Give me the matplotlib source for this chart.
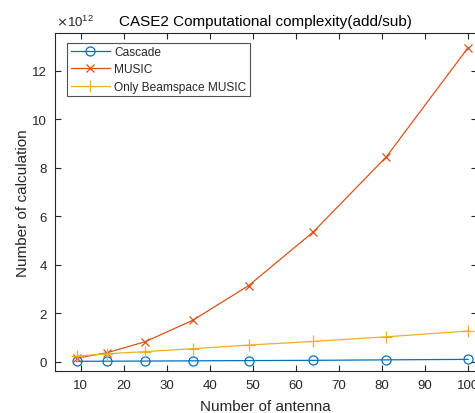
import numpy as np
import matplotlib.pyplot as plt
from matplotlib.ticker import FuncFormatter

plt.rcParams['font.family'] = ['Liberation Sans', 'DejaVu Sans']

antennas = [9, 16, 25, 36, 49, 64, 81, 100]
cascade = [0.02e12, 0.025e12, 0.03e12, 0.04e12, 0.05e12, 0.06e12, 0.08e12, 0.10e12]
music = [0.15e12, 0.37e12, 0.83e12, 1.71e12, 3.14e12, 5.35e12, 8.45e12, 12.95e12]
beamspace = [0.23e12, 0.33e12, 0.42e12, 0.54e12, 0.69e12, 0.84e12, 1.03e12, 1.27e12]

xticks = [10, 20, 30, 40, 50, 60, 70, 80, 90, 100]
yticks = [0, 2e12, 4e12, 6e12, 8e12, 10e12, 12e12]

txt = '#262626'
fig = plt.figure(figsize=(4.75, 4.14), dpi=100)
ax = fig.add_axes([0.1158, 0.102, 0.8878, 0.8157])

ax.plot(antennas, cascade, '-o', color='#0072BD', lw=0.9, ms=6.5,
        mfc='none', mew=0.9, label='Cascade')
ax.plot(antennas, music, '-x', color='#D95319', lw=0.9, ms=5.5,
        mew=0.9, label='MUSIC')
ax.plot(antennas, beamspace, '-+', color='#EDB120', lw=0.9, ms=8,
        mew=0.9, label='Only Beamspace MUSIC')

ax.set_xlim(4, 102)
ax.set_ylim(-0.37e12, 13.55e12)
ax.set_xticks(xticks)
ax.set_yticks(yticks)

# tick labels in units of 1e12, exponent shown above the axis
ax.yaxis.set_major_formatter(FuncFormatter(lambda v, p: f'{v / 1e12:g}'))
ax.text(0.003, 1.012, r'$\times\mathregular{10^{12}}$', transform=ax.transAxes,
        fontsize=9.5, color=txt, ha='left', va='bottom')

ax.tick_params(direction='in', length=4, width=0.8, colors=txt,
               labelsize=9.5, top=True, right=True)
ax.tick_params(axis='x', pad=6)
ax.tick_params(axis='y', pad=6)
for s in ax.spines.values():
    s.set_color(txt)
    s.set_linewidth(0.8)

ax.set_title('CASE2 Computational complexity(add/sub)', fontsize=11, color='black', pad=6)
ax.set_xlabel('Number of antenna', fontsize=11, color=txt, labelpad=6)
ax.set_ylabel('Number of calculation', fontsize=11, color=txt, labelpad=1)

leg = ax.legend(loc='upper left', fontsize=8.6, frameon=True, fancybox=False,
                edgecolor=txt, borderpad=0.3, handlelength=3.3,
                labelspacing=0.45, handletextpad=0.35, borderaxespad=0,
                bbox_to_anchor=(0.0285, 0.972))
leg.get_frame().set_linewidth(0.8)
for t in leg.get_texts():
    t.set_color(txt)

fig.savefig('out.png', dpi=100)
